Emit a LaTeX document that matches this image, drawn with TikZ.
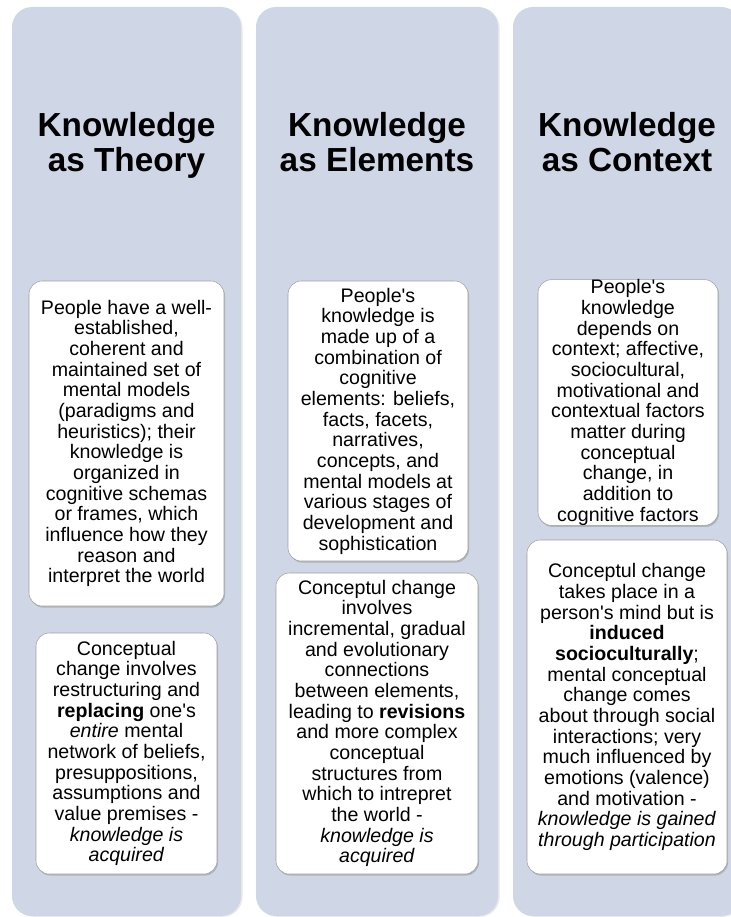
\documentclass[tikz,border=0pt]{standalone}
\usepackage{fontspec}
\setmainfont{Liberation Sans}[Ligatures=TeXOff]
\usetikzlibrary{shadows}

\definecolor{colfill}{RGB}{207,214,229}
\definecolor{boxline}{RGB}{160,160,160}

\tikzset{
  column/.style={fill=colfill, rounded corners=15pt,
    drop shadow={shadow xshift=1.2pt, shadow yshift=-0.6pt, opacity=0.18}},
  title/.style={align=center, font=\bfseries\fontsize{25}{26.3}\selectfont},
  textbox/.style 2 args={draw=boxline, line width=0.4pt, fill=white,
    rounded corners=10pt, align=center, inner xsep=0pt, inner ysep=0pt,
    minimum width=#1, minimum height=#2,
    font=\fontsize{14.7}{15.5}\selectfont,
    drop shadow={shadow xshift=0.8pt, shadow yshift=-1.2pt, opacity=0.4}}
}

\begin{document}
\begin{tikzpicture}[x=0.75pt,y=-0.75pt]
        \useasboundingbox (0,0) rectangle (731,917);
        \clip (0,0) rectangle (731,917);

        % draw columns
        \foreach \l/\r in {12/241, 256/498, 513/741}
          \fill[column] (\l,7) rectangle (\r,916);

        % draw titles (strut keeps the baselines level)
        \node[title] (theory) at (126.5,147.5) {Knowledge\\as Theory\strut};
        \node[title] (elements) at (377,147.5) {Knowledge\\as Elements\strut};
        \node[title] (context) at (627,147.5) {Knowledge\\as Context\strut};

        % draw theory boxes
        \node[textbox={146.25pt}{243.75pt}] (theorytop) at (126.5,443.5)
          {People have a well-\\established,\\coherent and\\maintained set of\\mental models\\(paradigms and\\heuristics); their\\knowledge is\\organized in\\cognitive schemas\\or frames, which\\influence how they\\reason and\\interpret the world};
        \node[textbox={135.75pt}{180.75pt}] (theorybot) at (126.5,753.5)
          {Conceptual\\change involves\\restructuring and\\\textbf{replacing} one's\\\textit{entire} mental\\network of beliefs,\\presuppositions,\\assumptions and\\value premises -\\\textit{knowledge is}\\\textit{acquired}};

        % draw elements boxes
        \node[textbox={135pt}{210pt}] (elemtop) at (378,421)
          {People's\\knowledge is\\made up of a\\combination of\\cognitive\\elements: beliefs,\\facts, facets,\\narratives,\\concepts, and\\mental models at\\various stages of\\development and\\sophistication};
        \node[textbox={151.5pt}{225.75pt}] (elembot) at (377,723.5)
          {Conceptul change\\involves\\incremental, gradual\\and evolutionary\\connections\\between elements,\\leading to \textbf{revisions}\\and more complex\\conceptual\\structures from\\which to intrepret\\the world -\\\textit{knowledge is}\\\textit{acquired}};

        % draw context boxes
        \node[textbox={135pt}{182.25pt}] (contop) at (628,402.5)
          {People's\\knowledge\\depends on\\context; affective,\\sociocultural,\\motivational and\\contextual factors\\matter during\\conceptual\\change, in\\addition to\\cognitive factors};
        \node[textbox={150pt}{250.5pt}] (conbot) at (627,707)
          {Conceptul change\\takes place in a\\person's mind but is\\\textbf{induced}\\\textbf{socioculturally};\\mental conceptual\\change comes\\about through social\\interactions; very\\much influenced by\\emotions (valence)\\and motivation -\\\textit{knowledge is gained}\\\textit{through participation}};
\end{tikzpicture}
\end{document}
